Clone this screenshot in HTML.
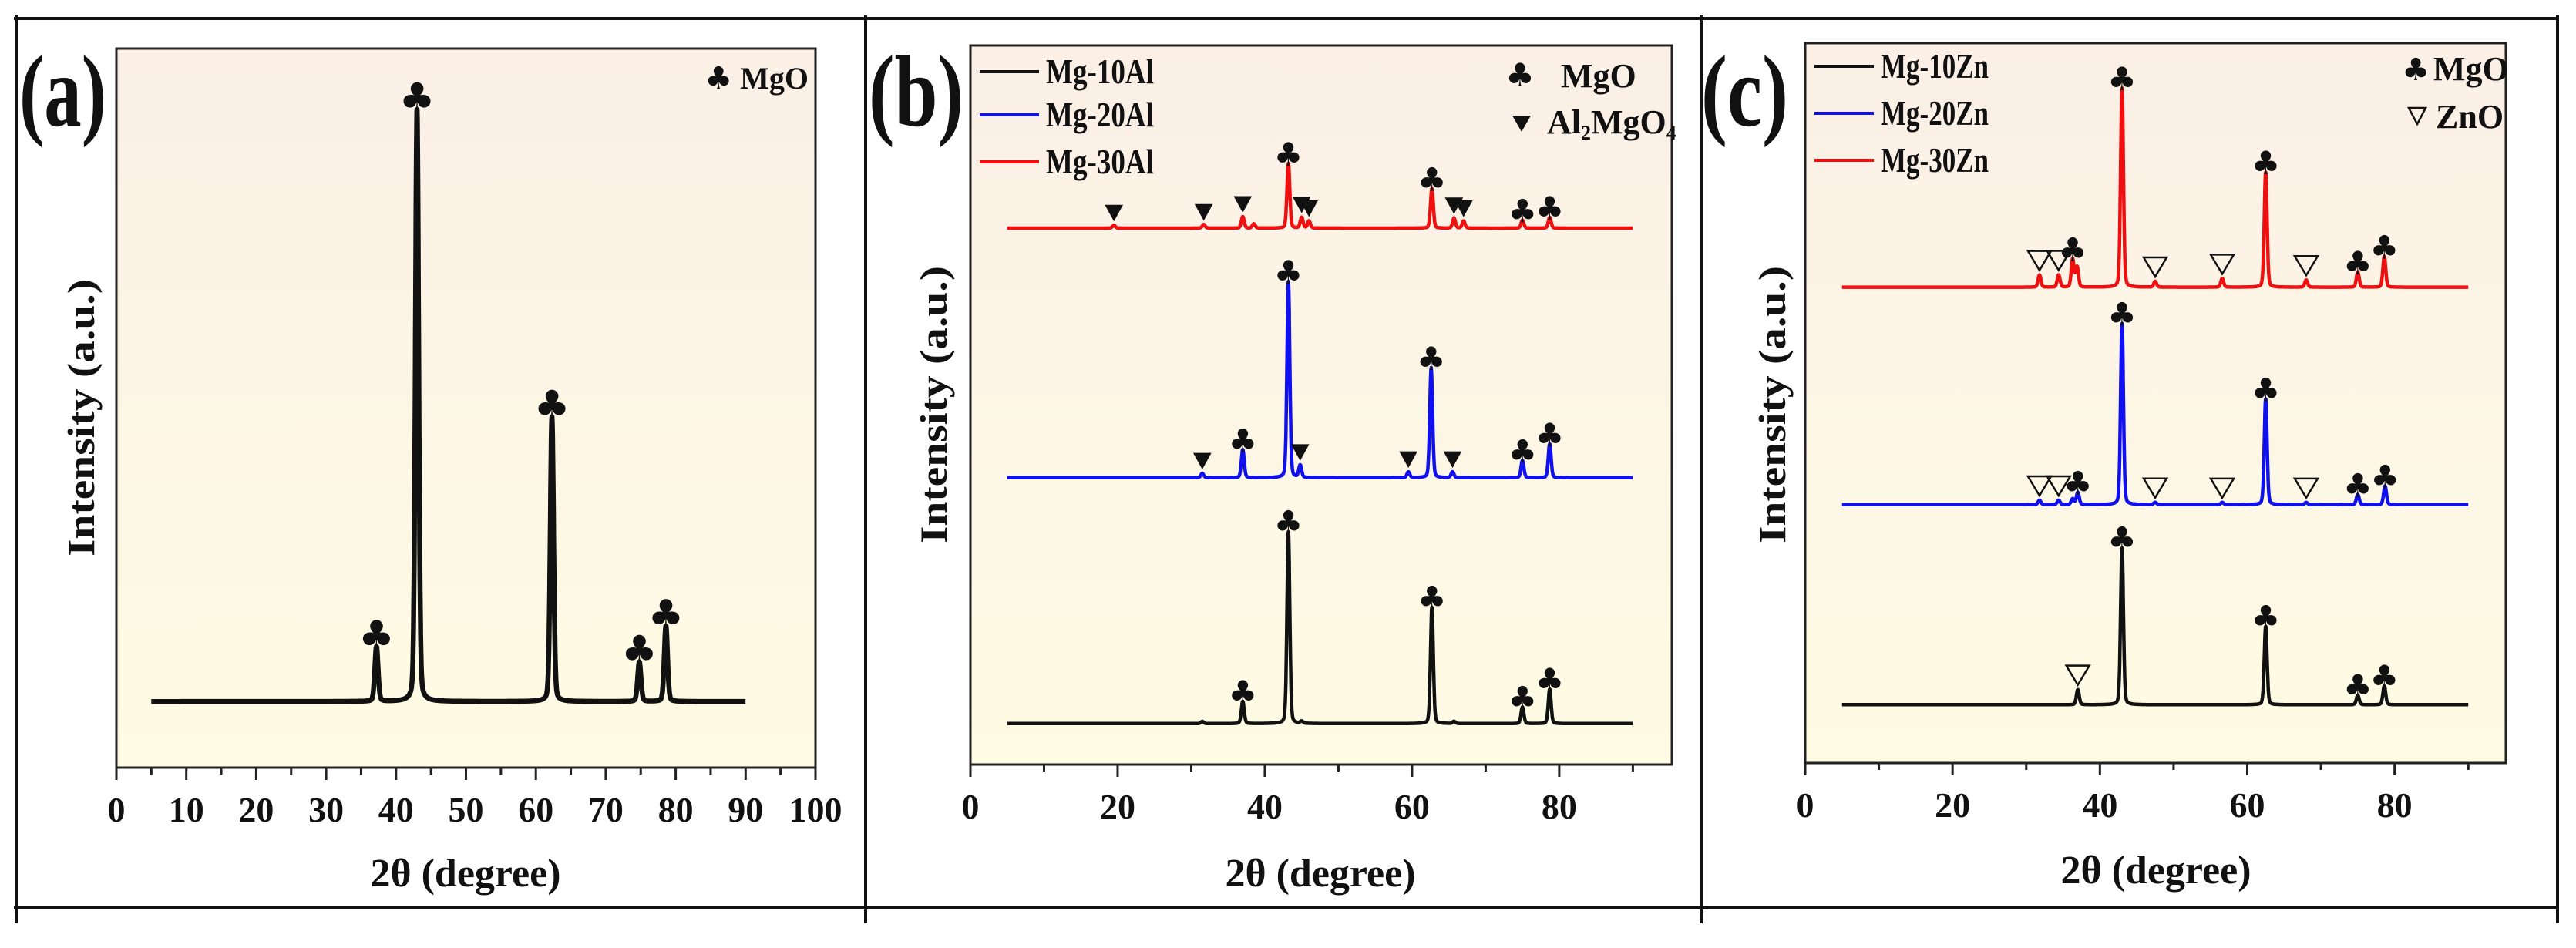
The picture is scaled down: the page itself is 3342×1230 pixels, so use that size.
<!DOCTYPE html>
<html><head><meta charset="utf-8"><style>
html,body{margin:0;padding:0;background:#fff;}
svg{display:block;}
text{font-family:"Liberation Serif","DejaVu Serif",serif;font-weight:bold;fill:#111;}
.sym{font-family:"DejaVu Sans","Liberation Sans",sans-serif;}
</style></head><body>
<svg id="fig" xmlns="http://www.w3.org/2000/svg" width="3342" height="1230" viewBox="0 0 3342 1230">
<defs><linearGradient id="bg" x1="0" y1="0" x2="0" y2="1"><stop offset="0" stop-color="#fbefe6"/><stop offset="1" stop-color="#fefce4"/></linearGradient></defs>
<g stroke="#111" stroke-width="4">
<line x1="18" y1="24" x2="3320" y2="24"/><line x1="18" y1="1178" x2="3320" y2="1178"/>
<line x1="21" y1="20" x2="21" y2="1198"/><line x1="1123" y1="20" x2="1123" y2="1198"/>
<line x1="2207" y1="20" x2="2207" y2="1198"/><line x1="3318" y1="20" x2="3318" y2="1198"/>
</g>
<g id="pa"></g>
<g id="pb"></g>
<g id="pc"></g>
<text x="25" y="163" font-size="132" textLength="113" lengthAdjust="spacingAndGlyphs">(a)</text>
<text x="1127" y="163" font-size="132" textLength="123" lengthAdjust="spacingAndGlyphs">(b)</text>
<text x="2207" y="163" font-size="132" textLength="113" lengthAdjust="spacingAndGlyphs">(c)</text>
<text x="604" y="1150" font-size="52" text-anchor="middle">2θ (degree)</text>
<text x="1713" y="1150" font-size="52" text-anchor="middle">2θ (degree)</text>
<text x="2797" y="1146" font-size="52" text-anchor="middle">2θ (degree)</text>
<text transform="translate(122,542) rotate(-90)" font-size="50" text-anchor="middle" textLength="360" lengthAdjust="spacingAndGlyphs">Intensity (a.u.)</text>
<text transform="translate(1228,525) rotate(-90)" font-size="50" text-anchor="middle" textLength="360" lengthAdjust="spacingAndGlyphs">Intensity (a.u.)</text>
<text transform="translate(2316,525) rotate(-90)" font-size="50" text-anchor="middle" textLength="360" lengthAdjust="spacingAndGlyphs">Intensity (a.u.)</text>
</svg>
<script>
// ---------- data ----------
const aTicks=[0,10,20,30,40,50,60,70,80,90,100];
const bTicks=[0,20,40,60,80];
const cTicks=[0,20,40,60,80];
const aBase=9.2;
const aPos=[37.2,43,62.3,74.8,78.6];
const aH=[7.6,82.4,39.6,5.5,10.5];
const aClubs=[37.2,43,62.3,74.8,78.6];

const bBlackBase=5.7;
const bBlackPos=[31.5,37,43.2,45,62.7,65.7,75,78.7];
const bBlackH=[0.3,3.1,26.7,0.3,16.2,0.3,2.3,4.8];
const bBlackClubs=[37,43.2,62.7,75,78.7];
const bBlackTri=[];
const bBlueBase=39.9;
const bBluePos=[31.5,37,43.2,44.8,59.5,62.6,65.5,75,78.7];
const bBlueH=[0.6,3.9,27.3,1.7,0.8,15.3,0.8,2.4,4.7];
const bBlueClubs=[37,43.2,62.6,75,78.7];
const bBlueTri=[31.5,44.8,59.5,65.5];
const bRedBase=74.6;
const bRedPos=[19.5,31.7,37,38.5,43.2,45,46,62.7,65.7,67,75,78.7];
const bRedH=[0.4,0.5,1.6,0.6,9.0,1.5,1.0,5.5,1.4,1.0,1.1,1.5];
const bRedClubs=[43.2,62.7,75,78.7];
const bRedTri=[19.5,31.7,37,45,46,65.7,67];

const cBlackBase=8.1;
const cBlackPos=[37,43,62.5,75,78.6];
const cBlackH=[2.1,21.8,10.9,1.3,2.6];
const cBlackClubs=[43,62.5,75,78.6];
const cBlackTri=[37];
const cBlueBase=35.9;
const cBluePos=[31.8,34.4,36.3,37,43,47.5,56.6,62.5,68,75,78.7];
const cBlueH=[0.6,0.6,0.8,1.7,25.2,0.3,0.3,14.7,0.3,1.4,2.6];
const cBlueClubs=[37,43,62.5,75,78.7];
const cBlueTri=[31.8,34.4,47.5,56.6,68];
const cRedBase=66.1;
const cRedPos=[31.8,34.4,36.3,36.9,43,47.5,56.6,62.5,68,75,78.6];
const cRedH=[1.7,1.7,3.9,2.8,27.7,0.8,1.2,16.0,1.0,2.1,4.3];
const cRedClubs=[36.3,43,62.5,75,78.6];
const cRedTri=[31.8,34.4,47.5,56.6,68];

// ---------- drawing ----------
const NS="http://www.w3.org/2000/svg";
function mk(tag,attrs,parent){const e=document.createElementNS(NS,tag);for(const k in attrs)e.setAttribute(k,attrs[k]);parent.appendChild(e);return e;}
function prof(d,w){const t=(d/w)*(d/w)*4;return 0.8*Math.exp(-Math.LN2*t)+0.2/(1+t);}
function spec(x,base,pos,h,w){let v=base;for(let i=0;i<pos.length;i++)v+=h[i]*prof(x-pos[i],w);return v;}

function panel(g,cfg,ticks,series,legend){
  const sx=v=>cfg.L+(v-0)/(cfg.xmax)*(cfg.R-cfg.L);
  const sy=v=>cfg.B-v/100*(cfg.B-cfg.T);
  const box=mk('rect',{x:cfg.L,y:cfg.T,width:cfg.R-cfg.L,height:cfg.B-cfg.T,fill:'url(#bg)',stroke:'#222','stroke-width':3},g);
  
  
  for(let v=0;v<=cfg.xmax+1e-9;v+=cfg.minor){
    const major=Math.abs(v/cfg.major-Math.round(v/cfg.major))<1e-6;
    const t=mk('line',{x1:sx(v),x2:sx(v),y1:cfg.B,y2:cfg.B+(major?16:9),stroke:'#222','stroke-width':3},g);
    
    
  }
  ticks.forEach(v=>{
    const t=mk('text',{x:sx(v),y:cfg.B+70,'font-size':46,'text-anchor':'middle'},g);
    t.textContent=String(v);
    
    
  });
  series.forEach(s=>{
    let d='';
    for(let x=5;x<=90.0001;x+=0.03){d+=(d?'L':'M')+sx(x).toFixed(1)+','+sy(spec(x,s.base,s.pos,s.h,cfg.w)).toFixed(1);}
    const p=mk('path',{d:d,fill:'none',stroke:s.color,'stroke-width':cfg.stroke,'stroke-linejoin':'round'},g);
    
    
    s.clubs.forEach(c=>{
      const top=sy(spec(c,s.base,s.pos,s.h,cfg.w));
      const t=mk('text',{x:sx(c),y:top+3,'font-size':cfg.club,'text-anchor':'middle','class':'sym'},g);
      t.textContent='♣';
      
      
    });
    s.tri.forEach(c=>{
      const top=sy(spec(c,s.base,s.pos,s.h,cfg.w))-6;
      const X=sx(c);
      const hollow=cfg.hollow;
      const tw=hollow?15:11, th=hollow?25:20;
      const t=mk('polygon',{points:(X-tw)+','+(top-th)+' '+(X+tw)+','+(top-th)+' '+X+','+top,fill:hollow?'none':'#111',stroke:'#111','stroke-width':hollow?2.5:1},g);
      
      
    });
  });
  if(legend)legend(g);
}

const pa=document.getElementById('pa'),pb=document.getElementById('pb'),pc=document.getElementById('pc');
panel(pa,{L:151,R:1058,T:63,B:996,xmax:100,major:10,minor:5,stroke:6.5,w:0.55,club:52,hollow:false},aTicks,
 [{name:'mgo',color:'#111',base:aBase,pos:aPos,h:aH,clubs:aClubs,tri:[]}],
 g=>{const t=mk('text',{x:1049,y:115,'font-size':40,'text-anchor':'end'},g);
  t.innerHTML='<tspan class="sym">♣</tspan> MgO';
  
  });

function seriesLegend(g,x0,ys,names,colors){
  names.forEach((n,i)=>{
    const l=mk('line',{x1:x0,x2:x0+77,y1:ys[i],y2:ys[i],stroke:colors[i],'stroke-width':4},g);
    
    
    const t=mk('text',{x:x0+86,y:ys[i]+15,'font-size':46,textLength:140,lengthAdjust:'spacingAndGlyphs'},g);
    t.textContent=n;
    
    
  });
}
panel(pb,{L:1259,R:2169,T:59,B:992,xmax:95.3,major:20,minor:10,stroke:4.5,w:0.45,club:42,hollow:false},bTicks,
 [{name:'mg-10al',color:'#111',base:bBlackBase,pos:bBlackPos,h:bBlackH,clubs:bBlackClubs,tri:bBlackTri},
  {name:'mg-20al',color:'#1010ee',base:bBlueBase,pos:bBluePos,h:bBlueH,clubs:bBlueClubs,tri:bBlueTri},
  {name:'mg-30al',color:'#ee1010',base:bRedBase,pos:bRedPos,h:bRedH,clubs:bRedClubs,tri:bRedTri}],
 g=>{seriesLegend(g,1271,[93,149,210],['Mg-10Al','Mg-20Al','Mg-30Al'],['#111','#1010ee','#ee1010']);
  const t1=mk('text',{x:1972,y:112,'font-size':42,'text-anchor':'middle','class':'sym'},g);t1.textContent='♣';
  
  
  const t2=mk('text',{x:2025,y:113,'font-size':44},g);t2.textContent='MgO';
  
  
  const p=mk('polygon',{points:'1962,150 1986,150 1974,171',fill:'#111'},g);
  
  
  const t3=mk('text',{x:2007,y:173,'font-size':44},g);t3.innerHTML='Al<tspan font-size="26" dy="8">2</tspan><tspan dy="-8">MgO</tspan><tspan font-size="26" dy="8">4</tspan>';
  
  });

panel(pc,{L:2342,R:3251,T:56,B:990,xmax:95.1,major:20,minor:10,stroke:4.5,w:0.45,club:42,hollow:true},cTicks,
 [{name:'mg-10zn',color:'#111',base:cBlackBase,pos:cBlackPos,h:cBlackH,clubs:cBlackClubs,tri:cBlackTri},
  {name:'mg-20zn',color:'#1010ee',base:cBlueBase,pos:cBluePos,h:cBlueH,clubs:cBlueClubs,tri:cBlueTri},
  {name:'mg-30zn',color:'#ee1010',base:cRedBase,pos:cRedPos,h:cRedH,clubs:cRedClubs,tri:cRedTri}],
 g=>{seriesLegend(g,2354,[86,147,208],['Mg-10Zn','Mg-20Zn','Mg-30Zn'],['#111','#1010ee','#ee1010']);
  const t1=mk('text',{x:3134,y:104,'font-size':40,'text-anchor':'middle','class':'sym'},g);t1.textContent='♣';
  
  
  const t2=mk('text',{x:3157,y:104,'font-size':44},g);t2.textContent='MgO';
  
  
  const p=mk('polygon',{points:'3125,140 3147,140 3136,161',fill:'none',stroke:'#111','stroke-width':2.5},g);
  
  
  const t3=mk('text',{x:3160,y:166,'font-size':44},g);t3.textContent='ZnO';
  
  });
</script>
</body></html>
